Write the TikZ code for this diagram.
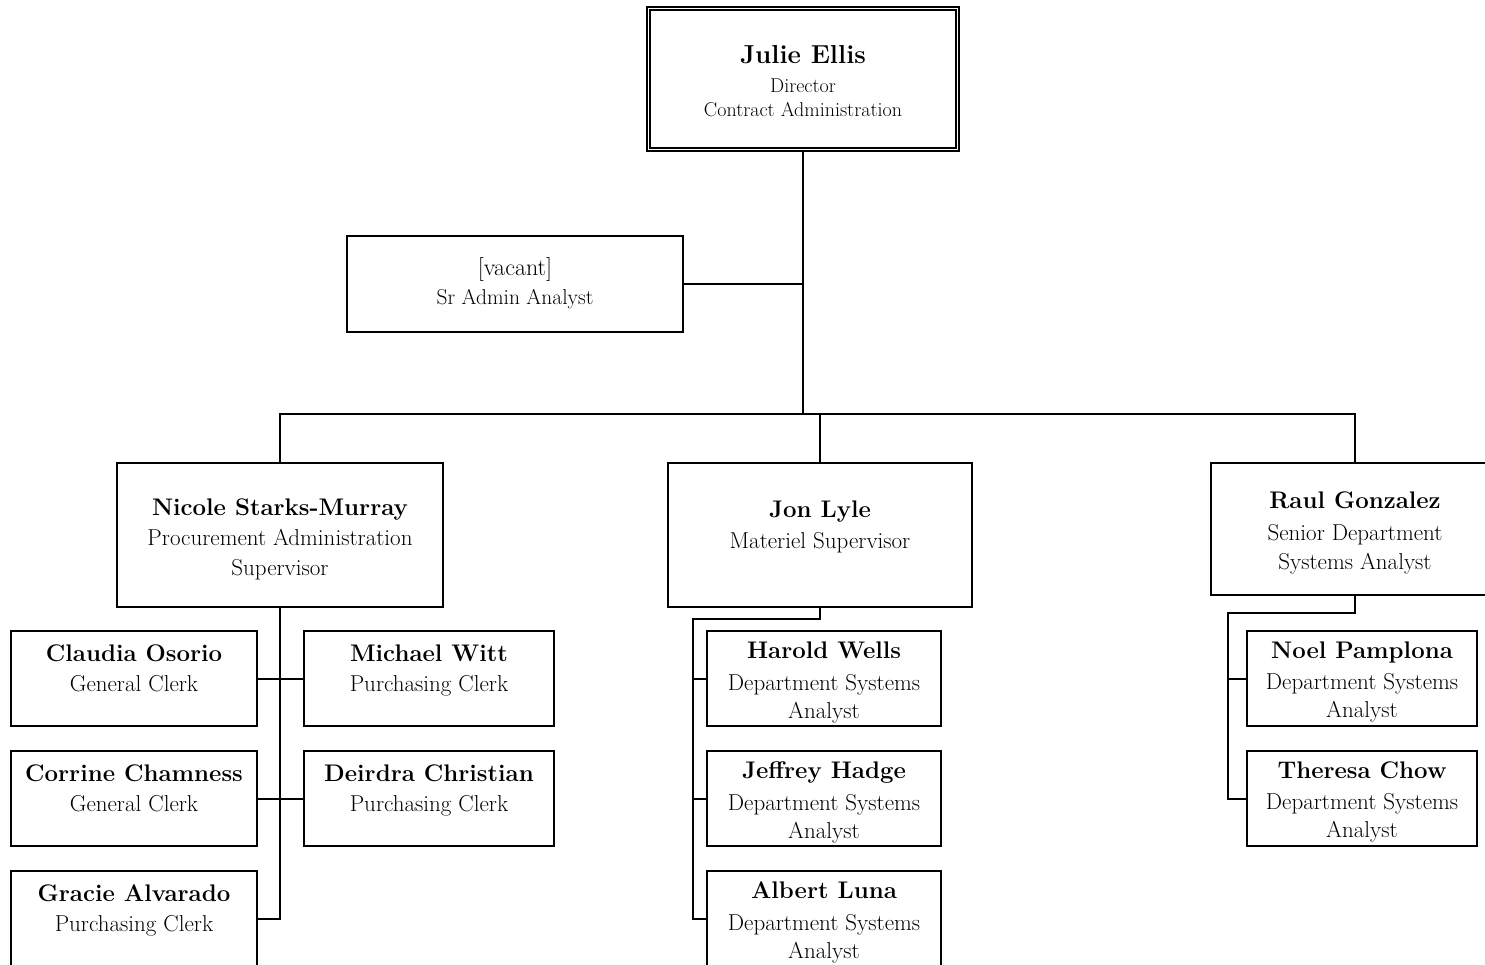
\documentclass[tikz,border=0pt]{standalone}
\begin{document}
\begin{tikzpicture}[x=1pt,y=-1pt,
  box/.style={draw, line width=2pt, rectangle, inner sep=0pt},
  wire/.style={line width=2pt, line cap=rect},
  nm/.style={font=\fontsize{24}{28}\bfseries\selectfont, anchor=base, inner sep=0pt},
  tl/.style={font=\fontsize{23}{28}\selectfont, anchor=base, inner sep=0pt}]
\useasboundingbox (0,0) rectangle (1485,965);
\clip (0,0) rectangle (1485,965);
% boxes
\node[box, minimum width=312pt, minimum height=144pt] (julie) at (803,79) {};
\draw[line width=1.4pt] ([shift={(4,4)}]julie.north west) rectangle ([shift={(-4,-4)}]julie.south east);
\node[box, minimum width=336pt, minimum height=96pt] (vacant) at (515,284) {};
\node[box, minimum width=326pt, minimum height=144pt] (nicole) at (280,535) {};
\node[box, minimum width=304pt, minimum height=144pt] (jon) at (820,535) {};
\node[box, minimum width=288pt, minimum height=132pt] (raul) at (1355,529) {};
\node[box, minimum width=246pt, minimum height=95pt] (claudia) at (134,678.5) {};
\node[box, minimum width=250pt, minimum height=95pt] (michael) at (429,678.5) {};
\node[box, minimum width=246pt, minimum height=95pt] (corrine) at (134,798.5) {};
\node[box, minimum width=250pt, minimum height=95pt] (deirdra) at (429,798.5) {};
\node[box, minimum width=246pt, minimum height=95pt] (gracie) at (134,918.5) {};
\node[box, minimum width=234pt, minimum height=95pt] (harold) at (824,678.5) {};
\node[box, minimum width=234pt, minimum height=95pt] (jeffrey) at (824,798.5) {};
\node[box, minimum width=234pt, minimum height=95pt] (albert) at (824,918.5) {};
\node[box, minimum width=230pt, minimum height=95pt] (noel) at (1362,678.5) {};
\node[box, minimum width=230pt, minimum height=95pt] (theresa) at (1362,798.5) {};
% texts
\node[nm, font=\fontsize{26}{30}\bfseries\selectfont] (t1) at (803,64) {Julie Ellis};
\node[tl, font=\fontsize{20}{24}\selectfont] (t2) at (803,93) {Director};
\node[tl, font=\fontsize{20}{24}\selectfont] (t3) at (803,117) {Contract Administration};
\node[tl, font=\fontsize{24}{28}\selectfont] (t4) at (515,276) {[vacant]};
\node[tl, font=\fontsize{21.5}{26}\selectfont] (t5) at (515,305) {Sr Admin Analyst};
\node[nm] (t6) at (280,515) {Nicole Starks-Murray};
\node[tl] (t7) at (280,545) {Procurement Administration};
\node[tl] (t8) at (280,575) {Supervisor};
\node[nm] (t9) at (820,517) {Jon Lyle};
\node[tl] (t10) at (820,548) {Materiel Supervisor};
\node[nm] (t11) at (1355,508) {Raul Gonzalez};
\node[tl] (t12) at (1355,540) {Senior Department};
\node[tl] (t13) at (1355,569) {Systems Analyst};
\node[nm] (t14) at (134,661) {Claudia Osorio};
\node[tl] (t15) at (134,691) {General Clerk};
\node[nm] (t16) at (429,661) {Michael Witt};
\node[tl] (t17) at (429,691) {Purchasing Clerk};
\node[nm] (t18) at (134,781) {Corrine Chamness};
\node[tl] (t19) at (134,811) {General Clerk};
\node[nm] (t20) at (429,781) {Deirdra Christian};
\node[tl] (t21) at (429,811) {Purchasing Clerk};
\node[nm] (t22) at (134,901) {Gracie Alvarado};
\node[tl] (t23) at (134,931) {Purchasing Clerk};
\node[nm] (t24) at (824,658) {Harold Wells};
\node[tl] (t25) at (824,690) {Department Systems};
\node[tl] (t26) at (824,718) {Analyst};
\node[nm] (t27) at (824,778) {Jeffrey Hadge};
\node[tl] (t28) at (824,810) {Department Systems};
\node[tl] (t29) at (824,838) {Analyst};
\node[nm] (t30) at (824,898) {Albert Luna};
\node[tl] (t31) at (824,930) {Department Systems};
\node[tl] (t32) at (824,958) {Analyst};
\node[nm] (t33) at (1362,658) {Noel Pamplona};
\node[tl] (t34) at (1362,689) {Department Systems};
\node[tl] (t35) at (1362,717) {Analyst};
\node[nm] (t36) at (1362,778) {Theresa Chow};
\node[tl] (t37) at (1362,809) {Department Systems};
\node[tl] (t38) at (1362,837) {Analyst};
% connectors
\coordinate (bus) at (803,414);
\coordinate (busL) at (280,414);
\coordinate (busR) at (1355,414);
\draw[wire] (julie.south) -- (bus);
\draw[wire] (vacant.east) -- (vacant.east -| bus);
\draw[wire] (nicole.north) -- (busL) -- (busR) -- (raul.north);
\draw[wire] (jon.north) -- (jon.north |- bus);
% left group
\draw[wire] (nicole.south) -- (nicole.south |- gracie.east) -- (gracie.east);
\draw[wire] (claudia.east) -- (michael.west);
\draw[wire] (corrine.east) -- (deirdra.west);
% middle group
\coordinate (jonJ) at (820,619);
\coordinate (jonL) at (693,619);
\draw[wire] (jon.south) -- (jonJ) -- (jonL) -- (jonL |- albert.west) -- (albert.west);
\draw[wire] (harold.west) -- (harold.west -| jonL);
\draw[wire] (jeffrey.west) -- (jeffrey.west -| jonL);
% right group
\coordinate (raulJ) at (1355,613);
\coordinate (raulL) at (1228,613);
\draw[wire] (raul.south) -- (raulJ) -- (raulL) -- (raulL |- theresa.west) -- (theresa.west);
\draw[wire] (noel.west) -- (noel.west -| raulL);
\end{tikzpicture}
\end{document}
